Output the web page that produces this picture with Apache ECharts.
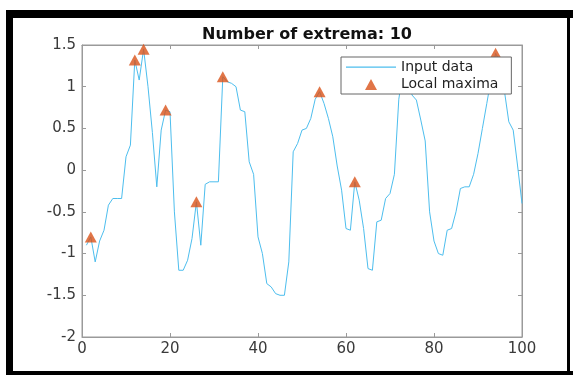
<!DOCTYPE html>
<html>
<head>
<meta charset="utf-8">
<script src="https://cdn.jsdelivr.net/npm/echarts@6/dist/echarts.min.js"></script>
<style>
  html, body { margin: 0; padding: 0; background: #fff; }
  #chart { width: 573px; height: 375px; }
</style>
</head>
<body>
<div id="chart"></div>
<script>
// Signal samples, one value per index 1..100
const inputData = [
  -0.9, -0.8, -1.1, -0.85, -0.72, -0.42, -0.34, -0.34, -0.34, 0.16,
  0.3, 1.32, 1.08, 1.45, 1.0, 0.45, -0.2, 0.48, 0.72, 0.70,
  -0.5, -1.2, -1.2, -1.08, -0.82, -0.38, -0.9, -0.17, -0.14, -0.14,
  -0.14, 1.12, 1.06, 1.04, 1.0, 0.72, 0.70, 0.1, -0.05, -0.8,
  -1.0, -1.36, -1.4, -1.48, -1.5, -1.5, -1.1, 0.22, 0.32, 0.48,
  0.5, 0.62, 0.85, 0.94, 0.8, 0.62, 0.4, 0.05, -0.24, -0.7,
  -0.72, -0.14, -0.36, -0.7, -1.18, -1.2, -0.62, -0.6, -0.34, -0.28,
  -0.05, 0.85, 1.2, 1.25, 0.9, 0.84, 0.6, 0.35, -0.5, -0.85,
  -1.0, -1.02, -0.72, -0.7, -0.5, -0.22, -0.2, -0.2, -0.05, 0.2,
  0.5, 0.8, 1.1, 1.4, 1.3, 0.95, 0.58, 0.48, 0.05, -0.4
];

// Sample indices flagged as local maxima
const maximaIdx = [2, 12, 14, 19, 26, 32, 54, 62, 74, 94];

const xTicks = [0, 20, 40, 60, 80, 100];
const yTicks = [-2, -1.5, -1, -0.5, 0, 0.5, 1, 1.5];

const titleText = 'Number of extrema: ' + maximaIdx.length;
const seriesNames = ['Input data', 'Local maxima'];

const lineXY = inputData.map((v, i) => [i + 1, v]);
const maxXY = maximaIdx.map(k => [k, inputData[k - 1]]);

const FONT = '"DejaVu Sans", "Liberation Sans", Arial, sans-serif';
const AXIS_COLOR = '#9a9a9a';
const LABEL_COLOR = '#3a3a3a';

// Legend glyphs: invisible corner points pin the box to 50x13 so the
// visible part keeps its proportions
const ICON_LINE = 'path://M0,0L0,0ZM50,13L50,13ZM0,6L50,6L50,7.2L0,7.2Z';
const ICON_TRI = 'path://M0,0L0,0ZM50,13L50,13ZM19,12.5L25,1.5L31,12.5Z';

function axisBase(extra) {
  return Object.assign({
    type: 'value',
    axisLine: { show: true, onZero: false, lineStyle: { color: AXIS_COLOR, width: 1 } },
    axisTick: { show: true, inside: true, length: 4, lineStyle: { color: AXIS_COLOR } },
    splitLine: { show: false },
    axisLabel: { color: LABEL_COLOR, fontSize: 15, fontFamily: FONT }
  }, extra);
}

const chart = echarts.init(document.getElementById('chart'), null, { renderer: 'canvas' });

chart.setOption({
  backgroundColor: '#fff',
  animation: false,
  title: {
    text: titleText,
    left: 302,
    top: 22,
    textAlign: 'center',
    textStyle: { fontFamily: FONT, fontWeight: 'bold', fontSize: 16, color: '#111' }
  },
  grid: { left: 82, top: 45, width: 440, height: 292, show: true, borderColor: AXIS_COLOR, borderWidth: 1, backgroundColor: '#fff' },
  xAxis: [
    axisBase({ position: 'bottom', min: xTicks[0], max: xTicks[xTicks.length - 1], interval: 20,
      axisLabel: { color: LABEL_COLOR, fontSize: 15, fontFamily: FONT, margin: 5 } }),
    axisBase({ position: 'top', min: xTicks[0], max: xTicks[xTicks.length - 1], interval: 20,
      axisLabel: { show: false } })
  ],
  yAxis: [
    axisBase({ position: 'left', min: yTicks[0], max: yTicks[yTicks.length - 1], interval: 0.5,
      axisLabel: { color: LABEL_COLOR, fontSize: 15, fontFamily: FONT, margin: 6 } }),
    axisBase({ position: 'right', min: yTicks[0], max: yTicks[yTicks.length - 1], interval: 0.5,
      axisLabel: { show: false } })
  ],
  legend: {
    orient: 'vertical',
    left: 341,
    top: 57,
    itemWidth: 50,
    itemHeight: 13,
    itemGap: 3,
    padding: [3, 13, 3, 5],
    backgroundColor: '#fff',
    borderColor: '#666',
    borderWidth: 1,
    borderRadius: 0,
    z: 10,
    textStyle: { fontFamily: FONT, fontSize: 14, color: '#222' },
    data: [
      { name: seriesNames[0], icon: ICON_LINE },
      { name: seriesNames[1], icon: ICON_TRI }
    ]
  },
  series: [
    {
      name: seriesNames[0],
      type: 'line',
      data: lineXY,
      symbol: 'none',
      lineStyle: { color: '#4DBEEE', width: 1 },
      itemStyle: { color: '#4DBEEE' },
      z: 2
    },
    {
      name: seriesNames[1],
      type: 'scatter',
      data: maxXY,
      symbol: 'triangle',
      symbolSize: [12, 11],
      itemStyle: { color: '#D95319' },
      z: 3
    }
  ],
  graphic: [
    // heavy frame round the figure
    { type: 'rect', shape: { x: 6, y: 10, width: 567, height: 8 }, style: { fill: '#000' }, silent: true },
    { type: 'rect', shape: { x: 6, y: 10, width: 7, height: 365 }, style: { fill: '#000' }, silent: true },
    { type: 'rect', shape: { x: 567, y: 10, width: 3, height: 365 }, style: { fill: '#000' }, silent: true },
    { type: 'rect', shape: { x: 6, y: 371, width: 567, height: 4 }, style: { fill: '#000' }, silent: true }
  ]
});
</script>
</body>
</html>
